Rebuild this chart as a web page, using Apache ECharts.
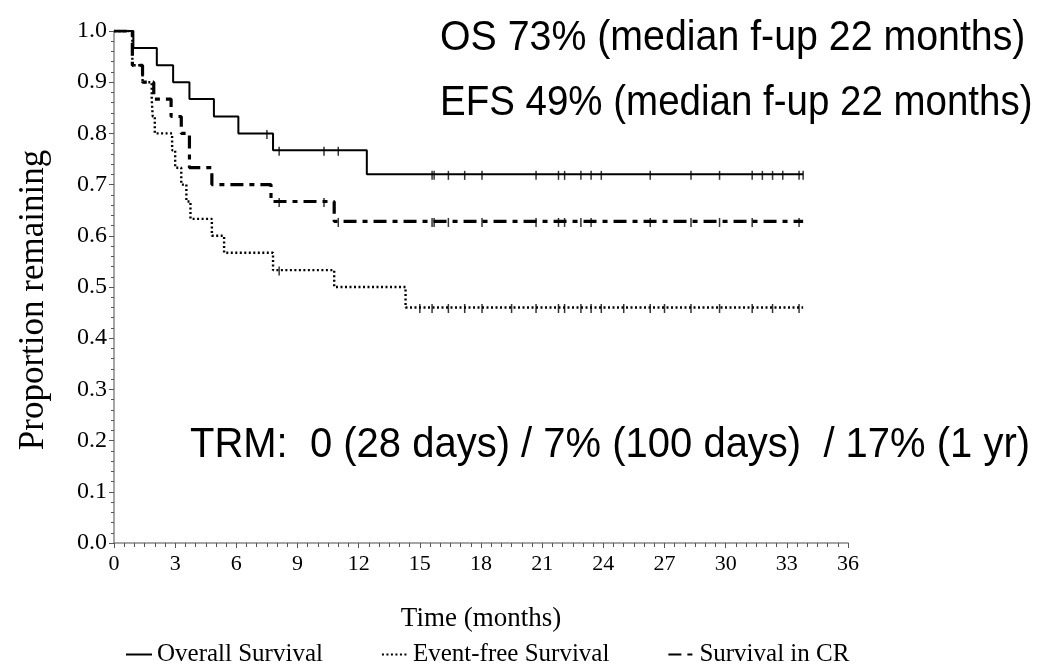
<!DOCTYPE html>
<html>
<head>
<meta charset="utf-8">
<script src="https://cdn.jsdelivr.net/npm/echarts@6/dist/echarts.min.js"></script>
<style>html,body{margin:0;padding:0;background:#fff}#c{width:1048px;height:670px}</style>
</head>
<body>
<div id="c"></div>
<script>
// Kaplan-Meier step data (time in months, proportion remaining)
const osTimes = [0, 0.95, 2.1, 2.9, 3.7, 4.9, 6.1, 7.8, 12.4, 33.8];
const osSurv  = [1.0, 0.967, 0.933, 0.9, 0.867, 0.833, 0.8, 0.767, 0.72, 0.72];

const efsTimes = [0, 0.9, 1.4, 1.85, 1.9, 2.0, 2.85, 3.0, 3.3, 3.55, 3.75, 4.8, 5.4, 7.8, 10.8, 14.3, 33.8];
const efsSurv  = [1.0, 0.933, 0.9, 0.867, 0.833, 0.8, 0.767, 0.733, 0.7, 0.667, 0.633, 0.6, 0.567, 0.533, 0.5, 0.46, 0.46];

const crTimes = [0, 0.9, 1.4, 1.95, 2.8, 3.3, 3.7, 4.8, 7.7, 10.8, 33.8];
const crSurv  = [1.0, 0.933, 0.9, 0.867, 0.833, 0.8, 0.733, 0.7, 0.667, 0.628, 0.628];

// censoring times
const osCensor  = [7.5, 8.1, 10.3, 11.0, 15.6, 15.7, 16.4, 17.2, 18.05, 20.7, 21.8, 22.1, 22.9, 23.4, 23.9, 26.3, 28.3, 29.7, 31.3, 31.8, 32.3, 32.8, 33.6, 33.8];
const crCensor  = [8.1, 10.3, 11.0, 15.6, 15.7, 16.4, 18.05, 20.7, 21.8, 22.1, 22.9, 23.4, 26.3, 28.3, 29.7, 31.3, 33.6];
const efsCensor = [8.1, 15.0, 15.6, 16.4, 17.2, 18.05, 19.5, 20.7, 21.8, 22.1, 22.9, 23.4, 23.9, 25.0, 26.3, 27.0, 28.3, 29.7, 31.3, 32.3, 33.6];

const seriesNames = ['Overall Survival', 'Event-free Survival', 'Survival in CR'];
const xTicks = [0, 36, 3];
const yTicks = [0, 1, 0.1];

const annoOS  = 'OS 73% (median f-up 22 months)';
const annoEFS = 'EFS 49% (median f-up 22 months)';
const annoTRM = 'TRM:  0 (28 days) / 7% (100 days)  / 17% (1 yr)';
const yName = 'Proportion remaining';
const xName = 'Time (months)';

function pairs(t, v) { return t.map((x, i) => [x, v[i]]); }
function stepAt(t, v, x) { let y = v[0]; for (let i = 0; i < t.length; i++) { if (t[i] <= x) y = v[i]; } return y; }
function censorPts(c, t, v) { return c.map(x => [x, stepAt(t, v, x)]); }

const chart = echarts.init(document.getElementById('c'), null, {renderer: 'canvas'});
const serif = 'Liberation Serif, Times New Roman, serif';
const sans = 'Liberation Sans, Arial, sans-serif';

const censorStyle = (data, name) => ({
  name: name, type: 'scatter', data: data, symbol: 'rect', symbolSize: [1.5, 9], symbolOffset: [0, 1],
  itemStyle: {color: '#000'}, silent: true, z: 3
});

chart.setOption({
  animation: false,
  backgroundColor: '#fff',
  grid: {left: 114, right: 200, top: 31, bottom: 127},
  xAxis: {
    type: 'value', min: xTicks[0], max: xTicks[1], interval: xTicks[2],
    name: xName, nameLocation: 'middle', nameGap: 62,
    nameTextStyle: {fontFamily: serif, fontSize: 27, color: '#000'},
    axisLine: {lineStyle: {color: '#888', width: 1.5}},
    axisTick: {inside: false, length: 5, lineStyle: {color: '#555'}},
    minorTick: {show: true, splitNumber: 6, length: 4, lineStyle: {color: '#555'}},
    splitLine: {show: false},
    axisLabel: {fontFamily: serif, fontSize: 22, color: '#000', margin: 10}
  },
  yAxis: {
    type: 'value', min: yTicks[0], max: yTicks[1], interval: yTicks[2],
    axisLine: {show: true, lineStyle: {color: '#888', width: 1.5}},
    axisTick: {show: true, length: 5, lineStyle: {color: '#555'}},
    minorTick: {show: true, splitNumber: 5, length: 3, lineStyle: {color: '#555'}},
    splitLine: {show: false},
    axisLabel: {fontFamily: serif, fontSize: 24, color: '#000', margin: 7, formatter: v => v.toFixed(1)}
  },
  legend: {
    data: seriesNames, top: 637, left: 120, itemWidth: 26, itemHeight: 10, itemGap: 58,
    itemStyle: {opacity: 0},
    textStyle: {fontFamily: serif, fontSize: 25, color: '#000'}
  },
  series: [
    {name: seriesNames[0], type: 'line', step: 'end', data: pairs(osTimes, osSurv), showSymbol: false, symbol: 'none',
     lineStyle: {color: '#000', width: 2}, itemStyle: {color: '#000'}, z: 4},
    {name: seriesNames[1], type: 'line', step: 'end', data: pairs(efsTimes, efsSurv), showSymbol: false, symbol: 'none',
     lineStyle: {color: '#000', width: 2.4, type: [2, 2.5]}, itemStyle: {color: '#000'}, z: 4},
    {name: seriesNames[2], type: 'line', step: 'end', data: pairs(crTimes, crSurv), showSymbol: false, symbol: 'none',
     lineStyle: {color: '#000', width: 3.2, type: [13, 6, 5, 6]}, itemStyle: {color: '#000'}, z: 4},
    censorStyle(censorPts(osCensor, osTimes, osSurv), 'os-censor'),
    censorStyle(censorPts(efsCensor, efsTimes, efsSurv), 'efs-censor'),
    censorStyle(censorPts(crCensor, crTimes, crSurv), 'cr-censor')
  ],
  graphic: [
    {type: 'text', x: 440, y: 38, scaleX: 0.914, style: {text: annoOS, font: '43px ' + sans, fill: '#000', textAlign: 'left', textVerticalAlign: 'middle'}},
    {type: 'text', x: 440, y: 103, scaleX: 0.895, style: {text: annoEFS, font: '43px ' + sans, fill: '#000', textAlign: 'left', textVerticalAlign: 'middle'}},
    {type: 'text', x: 190, y: 445, scaleX: 0.93, style: {text: annoTRM, font: '43px ' + sans, fill: '#000', textAlign: 'left', textVerticalAlign: 'middle'}},
    {type: 'text', x: 34, y: 300, rotation: Math.PI / 2, style: {text: yName, font: '35px ' + serif, fill: '#000', textAlign: 'center', textVerticalAlign: 'middle'}}
  ]
});
</script>
</body>
</html>
